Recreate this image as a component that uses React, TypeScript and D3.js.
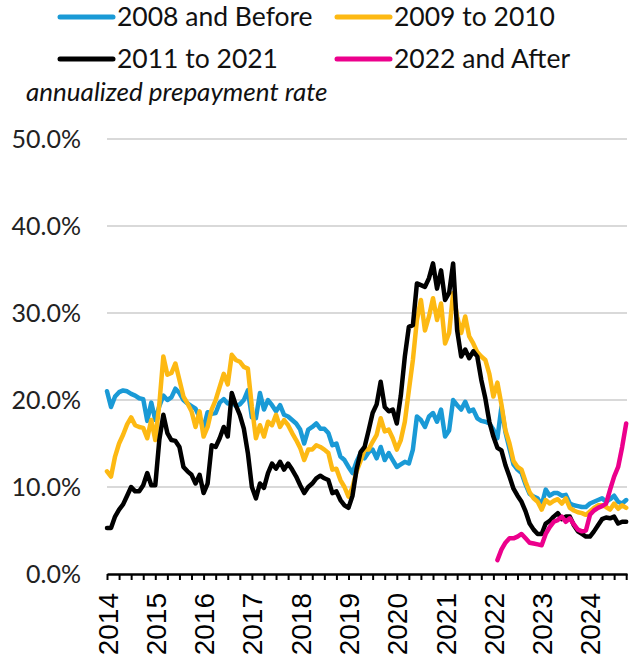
import React, { useEffect, useRef } from 'react';
import * as d3 from 'd3';

// monthly annualized prepayment rate (%), Jan 2014 .. Oct 2024
const before2008 = [
  21.0, 19.2, 20.4, 20.9, 21.1, 21.0, 20.7, 20.5, 20.2, 20.1, 17.6, 19.7,
  17.7, 19.3, 20.5, 20.0, 20.3, 21.3, 20.8, 20.0, 19.6, 19.3, 19.0, 18.0,
  16.8, 18.6, 18.4, 18.5, 19.7, 20.1, 19.6, 19.8, 19.3, 19.5, 20.0, 21.1,
  18.0, 17.9, 20.8, 18.9, 20.0, 19.4, 18.7, 19.4, 18.3, 18.1, 17.7, 17.3,
  16.6, 15.0, 16.6, 16.9, 17.3, 16.7, 16.7, 16.2, 14.8, 15.0, 13.5, 13.1,
  12.3, 11.6, 12.9, 13.9, 13.3, 14.0, 14.3, 13.3, 14.6, 13.1, 13.9, 13.1,
  12.3, 12.6, 12.9, 12.7, 14.3, 18.1, 17.7, 16.9, 18.1, 18.5, 17.5, 18.9,
  15.8, 16.5, 20.0, 19.4, 18.9, 19.8, 18.7, 18.9, 17.9, 17.6, 17.5, 17.3,
  16.6, 15.6, 19.2, 16.3, 14.4, 12.6, 12.0, 11.6, 10.3, 9.2, 8.9, 8.7,
  7.9, 9.7, 9.0, 9.3, 9.3, 9.0, 9.1, 8.1, 7.9, 7.8, 7.7, 7.7,
  8.1, 8.3, 8.5, 8.7, 8.3, 8.6, 9.0, 8.3, 8.1, 8.5,
];

const y2009to2010 = [
  11.8, 11.2, 13.5, 15.0, 16.0, 17.2, 18.0, 17.1, 16.9, 16.8, 15.6, 17.7,
  15.4, 19.5, 25.0, 22.9, 23.1, 24.2, 22.3, 20.4, 19.6, 18.7, 16.9, 18.7,
  15.8, 16.9, 18.9, 20.0, 21.5, 23.0, 21.8, 25.2, 24.6, 24.4, 23.8, 23.6,
  19.2, 15.6, 17.1, 15.8, 17.5, 17.1, 18.3, 16.9, 17.7, 17.1, 16.2, 15.4,
  14.5, 13.1, 14.3, 14.3, 14.8, 14.6, 14.3, 13.9, 12.0, 12.1, 10.8, 10.0,
  8.9, 10.0, 11.8, 13.0, 14.3, 14.3, 15.2, 16.0, 17.9, 16.4, 16.6, 15.6,
  14.3, 15.4, 17.5, 21.1, 24.6, 29.2, 31.5, 28.0, 29.6, 31.7, 29.2, 31.1,
  26.5, 27.7, 32.3, 29.6, 27.7, 29.6, 27.3, 26.5, 25.5, 25.0, 24.6, 23.0,
  20.4, 22.0, 19.5, 16.5, 15.0, 13.0, 12.3, 12.0, 10.6, 9.4, 8.7, 8.3,
  7.4, 8.5, 8.1, 8.4, 8.6, 8.1, 8.7, 7.6, 7.3, 7.1, 7.0, 6.8,
  7.2, 7.6, 7.9, 7.9, 7.7, 7.4, 8.1, 7.5, 7.9, 7.6,
];

const y2011to2021 = [
  5.3, 5.3, 6.6, 7.4, 8.0, 9.0, 10.0, 9.5, 9.5, 10.2, 11.6, 10.2,
  10.2, 15.4, 18.3, 16.2, 15.4, 15.3, 14.6, 12.3, 11.8, 11.4, 10.4, 11.4,
  9.3, 10.4, 14.8, 14.6, 15.6, 16.9, 15.8, 20.8, 19.4, 18.3, 16.7, 13.9,
  10.0, 8.7, 10.4, 9.9, 11.6, 12.7, 12.1, 12.9, 12.0, 12.7, 12.0, 11.2,
  10.2, 9.3, 10.0, 10.4, 11.0, 11.3, 11.0, 10.8, 9.3, 9.5, 8.5, 7.9,
  7.6, 9.0, 12.0, 14.0, 14.6, 16.5, 18.5, 19.5, 22.1, 19.2, 18.7, 18.9,
  17.3, 20.5, 25.0, 28.4, 28.6, 33.4, 33.2, 33.0, 34.0, 35.7, 32.8, 34.9,
  31.5, 32.3, 35.7, 28.0, 25.0, 25.8, 24.8, 25.6, 25.0, 22.3, 20.2, 17.5,
  15.8, 14.5, 14.2, 12.5, 11.2, 9.8, 9.0, 8.3, 7.2, 5.8, 5.1, 4.6,
  4.6, 5.8, 6.1, 6.6, 7.0, 6.3, 6.6, 6.6, 5.6, 4.9, 4.6, 4.3,
  4.3, 4.9, 5.6, 6.3, 6.5, 6.4, 6.6, 5.8, 6.0, 6.0,
];

// starts Feb 2022
const after2022Start = 97;
const after2022 = [
  1.6, 2.8, 3.6, 4.1, 4.1, 4.3, 4.6, 4.1, 3.6, 3.5, 3.4,
  3.3, 4.6, 5.4, 6.0, 6.2, 6.6, 6.0, 6.4, 5.7, 5.1, 4.9, 5.0,
  6.8, 7.3, 7.6, 7.8, 8.1, 9.7, 11.2, 12.3, 14.6, 17.3,
];

const seriesNames = ['2008 and Before', '2009 to 2010', '2011 to 2021', '2022 and After'];
const colors = ['#1a9ad6', '#fdb913', '#000000', '#ec008c'];
const yearLabels = ['2014', '2015', '2016', '2017', '2018', '2019', '2020', '2021', '2022', '2023', '2024'];
const yTicks = [0, 10, 20, 30, 40, 50];

const width = 636, height = 657;
const x = d3.scaleLinear().domain([0, 129.2]).range([107, 627]);
const y = d3.scaleLinear().domain([0, 50]).range([574, 139]);

const line = d3.line<[number, number]>()
  .x(d => x(d[0]))
  .y(d => y(d[1]));

const toPts = (vals: number[], offset: number) =>
  vals.map((v, i) => [i + offset, v] as [number, number]);

const series = [
  toPts(before2008, 0),
  toPts(y2009to2010, 0),
  toPts(y2011to2021, 0),
  toPts(after2022, after2022Start),
];

const lato = 'Lato, "Open Sans", sans-serif';

export default function App() {
  const axisRef = useRef<SVGGElement>(null);

  useEffect(() => {
    const g = d3.select(axisRef.current);
    g.call(
      d3.axisBottom(x)
        .tickValues(d3.range(0, 130, 3))
        .tickSize(6)
        .tickSizeOuter(0)
        .tickFormat((d: any) => (d % 12 === 0 ? yearLabels[d / 12] : ''))
    );
    g.attr('font-family', '"Liberation Sans", Arial, sans-serif').attr('font-size', 28);
    g.select('.domain').attr('stroke', '#000').attr('stroke-width', 2.5);
    g.selectAll('.tick line').attr('stroke', '#000').attr('stroke-width', 2);
    g.selectAll('.tick text')
      .attr('x', 0).attr('y', 0).attr('dy', null)
      .attr('fill', '#000')
      .attr('text-anchor', 'end')
      .attr('transform', 'translate(10,19) rotate(-90)');
  }, []);

  return (
    <svg width={width} height={height} style={{ position: 'absolute', left: 0, top: 0, background: '#fff' }}>
      {yTicks.filter(t => t > 0).map(t => (
        <line key={t} x1={x(0)} x2={627} y1={y(t)} y2={y(t)} stroke="#d9d9d9" strokeWidth={2} />
      ))}
      {yTicks.map(t => (
        <text key={t} x={81} y={y(t) + 9} textAnchor="end" fontFamily={lato} fontSize={25} fill="#222">
          {t.toFixed(1) + '%'}
        </text>
      ))}
      {series.map((pts, i) => (
        <path key={i} d={line(pts) || ''} fill="none" stroke={colors[i]} strokeWidth={4.5}
          strokeLinejoin="round" strokeLinecap="round" />
      ))}
      <g ref={axisRef} transform={`translate(0,${y(0)})`} />
      {seriesNames.map((name, i) => {
        const lx = i % 2 === 0 ? 60 : 337;
        const ly = i < 2 ? 17 : 59;
        return (
          <g key={name}>
            <line x1={lx} x2={lx + 53} y1={ly} y2={ly} stroke={colors[i]} strokeWidth={5} strokeLinecap="round" />
            <text x={lx + 57} y={ly + 9} fontFamily={lato} fontSize={26.5} fill="#111">{name}</text>
          </g>
        );
      })}
      <text x={26} y={101} fontFamily={lato} fontStyle="italic" fontSize={26} fill="#111">
        annualized prepayment rate
      </text>
    </svg>
  );
}
